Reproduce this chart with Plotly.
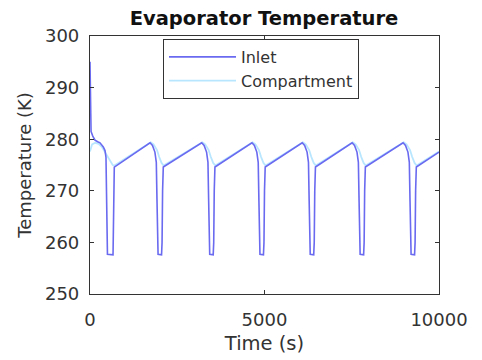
import plotly.graph_objects as go

# Inlet temperature (K) vs time (s)
inlet_time = [0, 15, 30, 80, 143, 220, 287, 381, 430, 458, 470, 480, 500, 660, 672, 682, 696,
              1720, 1790, 1860, 1900, 1920, 1935, 1950, 2050, 2065, 2080, 2100,
              3200, 3270, 3340, 3380, 3400, 3415, 3430, 3530, 3545, 3560, 3580,
              4640, 4710, 4780, 4820, 4840, 4855, 4870, 4970, 4985, 5000, 5020,
              6080, 6150, 6220, 6260, 6280, 6295, 6310, 6410, 6425, 6440, 6460,
              7510, 7580, 7650, 7690, 7710, 7725, 7740, 7840, 7855, 7870, 7890,
              8970, 9040, 9110, 9150, 9170, 9185, 9200, 9300, 9315, 9330, 9350,
              10000]
inlet_temp = [295.0, 287.0, 281.5, 280.6, 279.8, 279.5, 279.3, 278.5, 277.8, 276.5, 270.0, 259.0, 257.7, 257.6, 262.0, 270.0, 274.6,
              279.3, 278.8, 277.5, 275.5, 268.0, 258.5, 257.7, 257.6, 260.0, 270.0, 274.6,
              279.3, 278.8, 277.5, 275.5, 268.0, 258.5, 257.7, 257.6, 260.0, 270.0, 274.6,
              279.3, 278.8, 277.5, 275.5, 268.0, 258.5, 257.7, 257.6, 260.0, 270.0, 274.6,
              279.3, 278.8, 277.5, 275.5, 268.0, 258.5, 257.7, 257.6, 260.0, 270.0, 274.6,
              279.3, 278.8, 277.5, 275.5, 268.0, 258.5, 257.7, 257.6, 260.0, 270.0, 274.6,
              279.3, 278.8, 277.5, 275.5, 268.0, 258.5, 257.7, 257.6, 260.0, 270.0, 274.6,
              277.5]

# Compartment temperature (K) vs time (s)
comp_time = [0, 60, 150, 250, 350, 450, 550, 650, 700,
             1740, 1820, 1920, 1980, 2050, 2110,
             3220, 3300, 3400, 3460, 3530, 3590,
             4660, 4740, 4840, 4900, 4970, 5030,
             6100, 6180, 6280, 6340, 6410, 6470,
             7530, 7610, 7710, 7770, 7840, 7900,
             8990, 9070, 9170, 9230, 9300, 9360,
             10000]
comp_temp = [277.6, 279.0, 279.3, 279.1, 278.4, 277.3, 276.0, 275.0, 274.9,
             279.4, 279.0, 277.9, 276.6, 275.4, 274.9,
             279.4, 279.0, 277.9, 276.6, 275.4, 274.9,
             279.4, 279.0, 277.9, 276.6, 275.4, 274.9,
             279.4, 279.0, 277.9, 276.6, 275.4, 274.9,
             279.4, 279.0, 277.9, 276.6, 275.4, 274.9,
             279.4, 279.0, 277.9, 276.6, 275.4, 274.9,
             277.6]

x_ticks = [0, 5000, 10000]
y_ticks = [250, 260, 270, 280, 290, 300]

FONT = "DejaVu Sans, Liberation Sans, Arial, sans-serif"
AX = "#333333"

fig = go.Figure()
fig.add_trace(go.Scatter(x=comp_time, y=comp_temp, mode="lines", name="Compartment",
                         line=dict(color="#b8e6ff", width=1.8)))
fig.add_trace(go.Scatter(x=inlet_time, y=inlet_temp, mode="lines", name="Inlet",
                         line=dict(color="#6a6af0", width=1.6)))

fig.update_layout(
    width=482, height=360,
    margin=dict(l=90, r=43, t=36, b=66, autoexpand=False),
    paper_bgcolor="white", plot_bgcolor="white",
    font=dict(family=FONT, size=18, color="#333333"),
    title=dict(text="<b>Evaporator Temperature</b>", x=264/482, xanchor="center",
               y=1 - 18.5/360, yanchor="middle", automargin=False,
               font=dict(size=19.5, color="#111111")),
    legend=dict(x=(163-90)/349, y=(294-39)/258, xanchor="left", yanchor="top",
                bgcolor="white", bordercolor=AX, borderwidth=1,
                font=dict(size=16, color="#333333"), traceorder="reversed",
                itemwidth=67, tracegroupgap=0),
    showlegend=True,
)
fig.update_xaxes(range=[0, 10000], tickvals=x_ticks, ticktext=[str(v) for v in x_ticks],
                 showline=True, linecolor=AX, linewidth=1.2, mirror="ticks",
                 ticks="inside", ticklen=4, tickcolor=AX, showgrid=False, zeroline=False,
                 automargin=False, ticklabelstandoff=9,
                 title=dict(text="Time (s)", font=dict(size=19.5), standoff=7),
                 tickfont=dict(size=18))
fig.update_yaxes(range=[250, 300], tickvals=y_ticks, ticktext=[str(v) for v in y_ticks],
                 showline=True, linecolor=AX, linewidth=1.2, mirror="ticks",
                 ticks="inside", ticklen=4, tickcolor=AX, showgrid=False, zeroline=False,
                 automargin=False, ticklabelstandoff=6,
                 title=dict(text="Temperature (K)", font=dict(size=18), standoff=8),
                 tickfont=dict(size=18))

fig.write_html("out.html", config={"displayModeBar": False},
               post_script="document.body.style.margin='0';")
